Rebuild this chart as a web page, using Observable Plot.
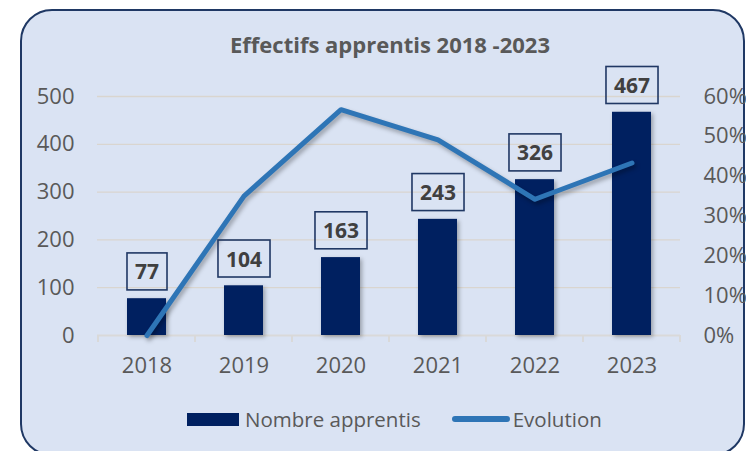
<!DOCTYPE html>
<html>
<head>
<meta charset="utf-8">
<script src="https://cdn.jsdelivr.net/npm/d3@7"></script>
<script src="https://cdn.jsdelivr.net/npm/@observablehq/plot@0.6"></script>
<style>
  html, body { margin: 0; padding: 0; width: 746px; height: 451px; overflow: hidden; background: #ffffff; font-family: "Open Sans", sans-serif; }
  #frame { position: absolute; left: 20px; top: 9px; width: 725px; height: 447px; box-sizing: border-box;
           border: 2px solid #1f3864; border-radius: 32px; background: #dae3f3; }
  #title { position: absolute; left: 34px; width: 712px; top: 33px; text-align: center; font-size: 22px; line-height: 22px;
           font-weight: bold; color: #595959; }
  #chart { position: absolute; left: 0; top: 60px; }
  #chart svg { overflow: visible; }
  #legend { position: absolute; left: 187px; top: 409px; height: 20px; display: flex; align-items: center; font-size: 20.5px; color: #595959; }
  .sw-bar { width: 52px; height: 13px; background: #002060; margin-right: 6px; }
  .sw-line { width: 58px; height: 6px; border-radius: 3px; background: #2e75b6; margin-left: 31px; margin-right: 3px; }
  g[aria-label="bar"] { filter: drop-shadow(2px 2px 2px rgba(0,0,0,0.3)); }
  g[aria-label="line"] { filter: drop-shadow(2px 3px 2px rgba(0,0,0,0.3)); }
</style>
</head>
<body>
<div id="frame"></div>
<div id="title"></div>
<div id="chart"></div>
<div id="legend"></div>
<script>
const titleText = "Effectifs apprentis 2018 -2023";
const years = ["2018", "2019", "2020", "2021", "2022", "2023"];
const apprentis = [77, 104, 163, 243, 326, 467];
const evolution = [0, 0.35, 0.567, 0.491, 0.342, 0.433];
const countTicks = [0, 100, 200, 300, 400, 500];
const pctTicks = [0, 0.1, 0.2, 0.3, 0.4, 0.5, 0.6];
const countMax = 500;
const pctMax = 0.6;
const seriesNames = ["Nombre apprentis", "Evolution"];

const navy = "#002060";
const lineBlue = "#2e75b6";
const textGray = "#595959";

const rows = years.map((y, i) => ({
  year: y,
  n: apprentis[i],
  evo: evolution[i],
  evoScaled: evolution[i] / pctMax * countMax
}));

document.getElementById("title").textContent = titleText;

// tick marks at band boundaries, using the plot's own x/y scales
function boundaryTicks(index, scales, values, dimensions) {
  const x = scales.x, y = scales.y;
  const bw = x.bandwidth(), step = x.step();
  const y0 = y(0);
  const g = d3.create("svg:g").attr("aria-label", "boundary-ticks");
  const xs = years.map(v => x(v) - (step - bw) / 2);
  xs.push(x(years[years.length - 1]) + bw + (step - bw) / 2);
  for (const px of xs) {
    g.append("line").attr("x1", px).attr("x2", px).attr("y1", y0).attr("y2", y0 + 7)
      .attr("stroke", "#d9d9d9").attr("stroke-width", 2);
  }
  return g.node();
}

const plot = Plot.plot({
  width: 746,
  height: 320,
  marginTop: 36,
  marginBottom: 45,
  marginLeft: 97,
  marginRight: 66,
  style: { background: "transparent", fontFamily: "Open Sans", fontSize: "22px", color: textGray, overflow: "visible" },
  x: { domain: years, paddingInner: 0.6, paddingOuter: 0.3 },
  y: { domain: [0, countMax] },
  marks: [
    Plot.gridY(countTicks.slice(1), { stroke: "#d9d5cf", strokeOpacity: 1, strokeWidth: 1.3 }),
    Plot.ruleY([0], { stroke: "#d9d9d9", strokeWidth: 2 }),
    boundaryTicks,
    Plot.axisX({ tickSize: 0, tickPadding: 22, label: null, fontSize: 22 }),
    Plot.axisY(countTicks, { tickSize: 0, tickPadding: 23, label: null, fontSize: 22 }),
    Plot.axisY(pctTicks.map(p => p / pctMax * countMax), {
      anchor: "right", tickSize: 0, tickPadding: 23, label: null, fontSize: 22,
      tickFormat: d => Math.round(d / countMax * pctMax * 100) + "%"
    }),
    Plot.barY(rows, { x: "year", y: "n", fill: navy }),
    Plot.line(rows, { x: "year", y: "evoScaled", stroke: lineBlue, strokeWidth: 5, strokeLinejoin: "round", strokeLinecap: "round" }),
    Plot.text(rows, { x: "year", y: "n", text: d => String(d.n), dy: -26, fontWeight: "bold", fontSize: 21, fill: "#404040" })
  ]
});

document.getElementById("chart").append(plot);

// boxes around the data labels
const labelGroup = plot.querySelector('g[aria-label="text"]');
if (labelGroup) {
  labelGroup.querySelectorAll("text").forEach(t => {
    const b = t.getBBox();
    const cy = b.y + b.height / 2;
    const rect = document.createElementNS("http://www.w3.org/2000/svg", "rect");
    rect.setAttribute("x", b.x - 8);
    rect.setAttribute("y", cy - 18.5);
    rect.setAttribute("width", b.width + 16);
    rect.setAttribute("height", 37);
    rect.setAttribute("fill", "none");
    rect.setAttribute("stroke", "#203864");
    rect.setAttribute("stroke-width", 1.6);
    const tr = t.getAttribute("transform");
    if (tr) rect.setAttribute("transform", tr);
    labelGroup.insertBefore(rect, t);
  });
}

// legend
const legend = document.getElementById("legend");
legend.innerHTML =
  '<div class="sw-bar"></div><span>' + seriesNames[0] + '</span>' +
  '<div class="sw-line"></div><span>' + seriesNames[1] + '</span>';
</script>
</body>
</html>
